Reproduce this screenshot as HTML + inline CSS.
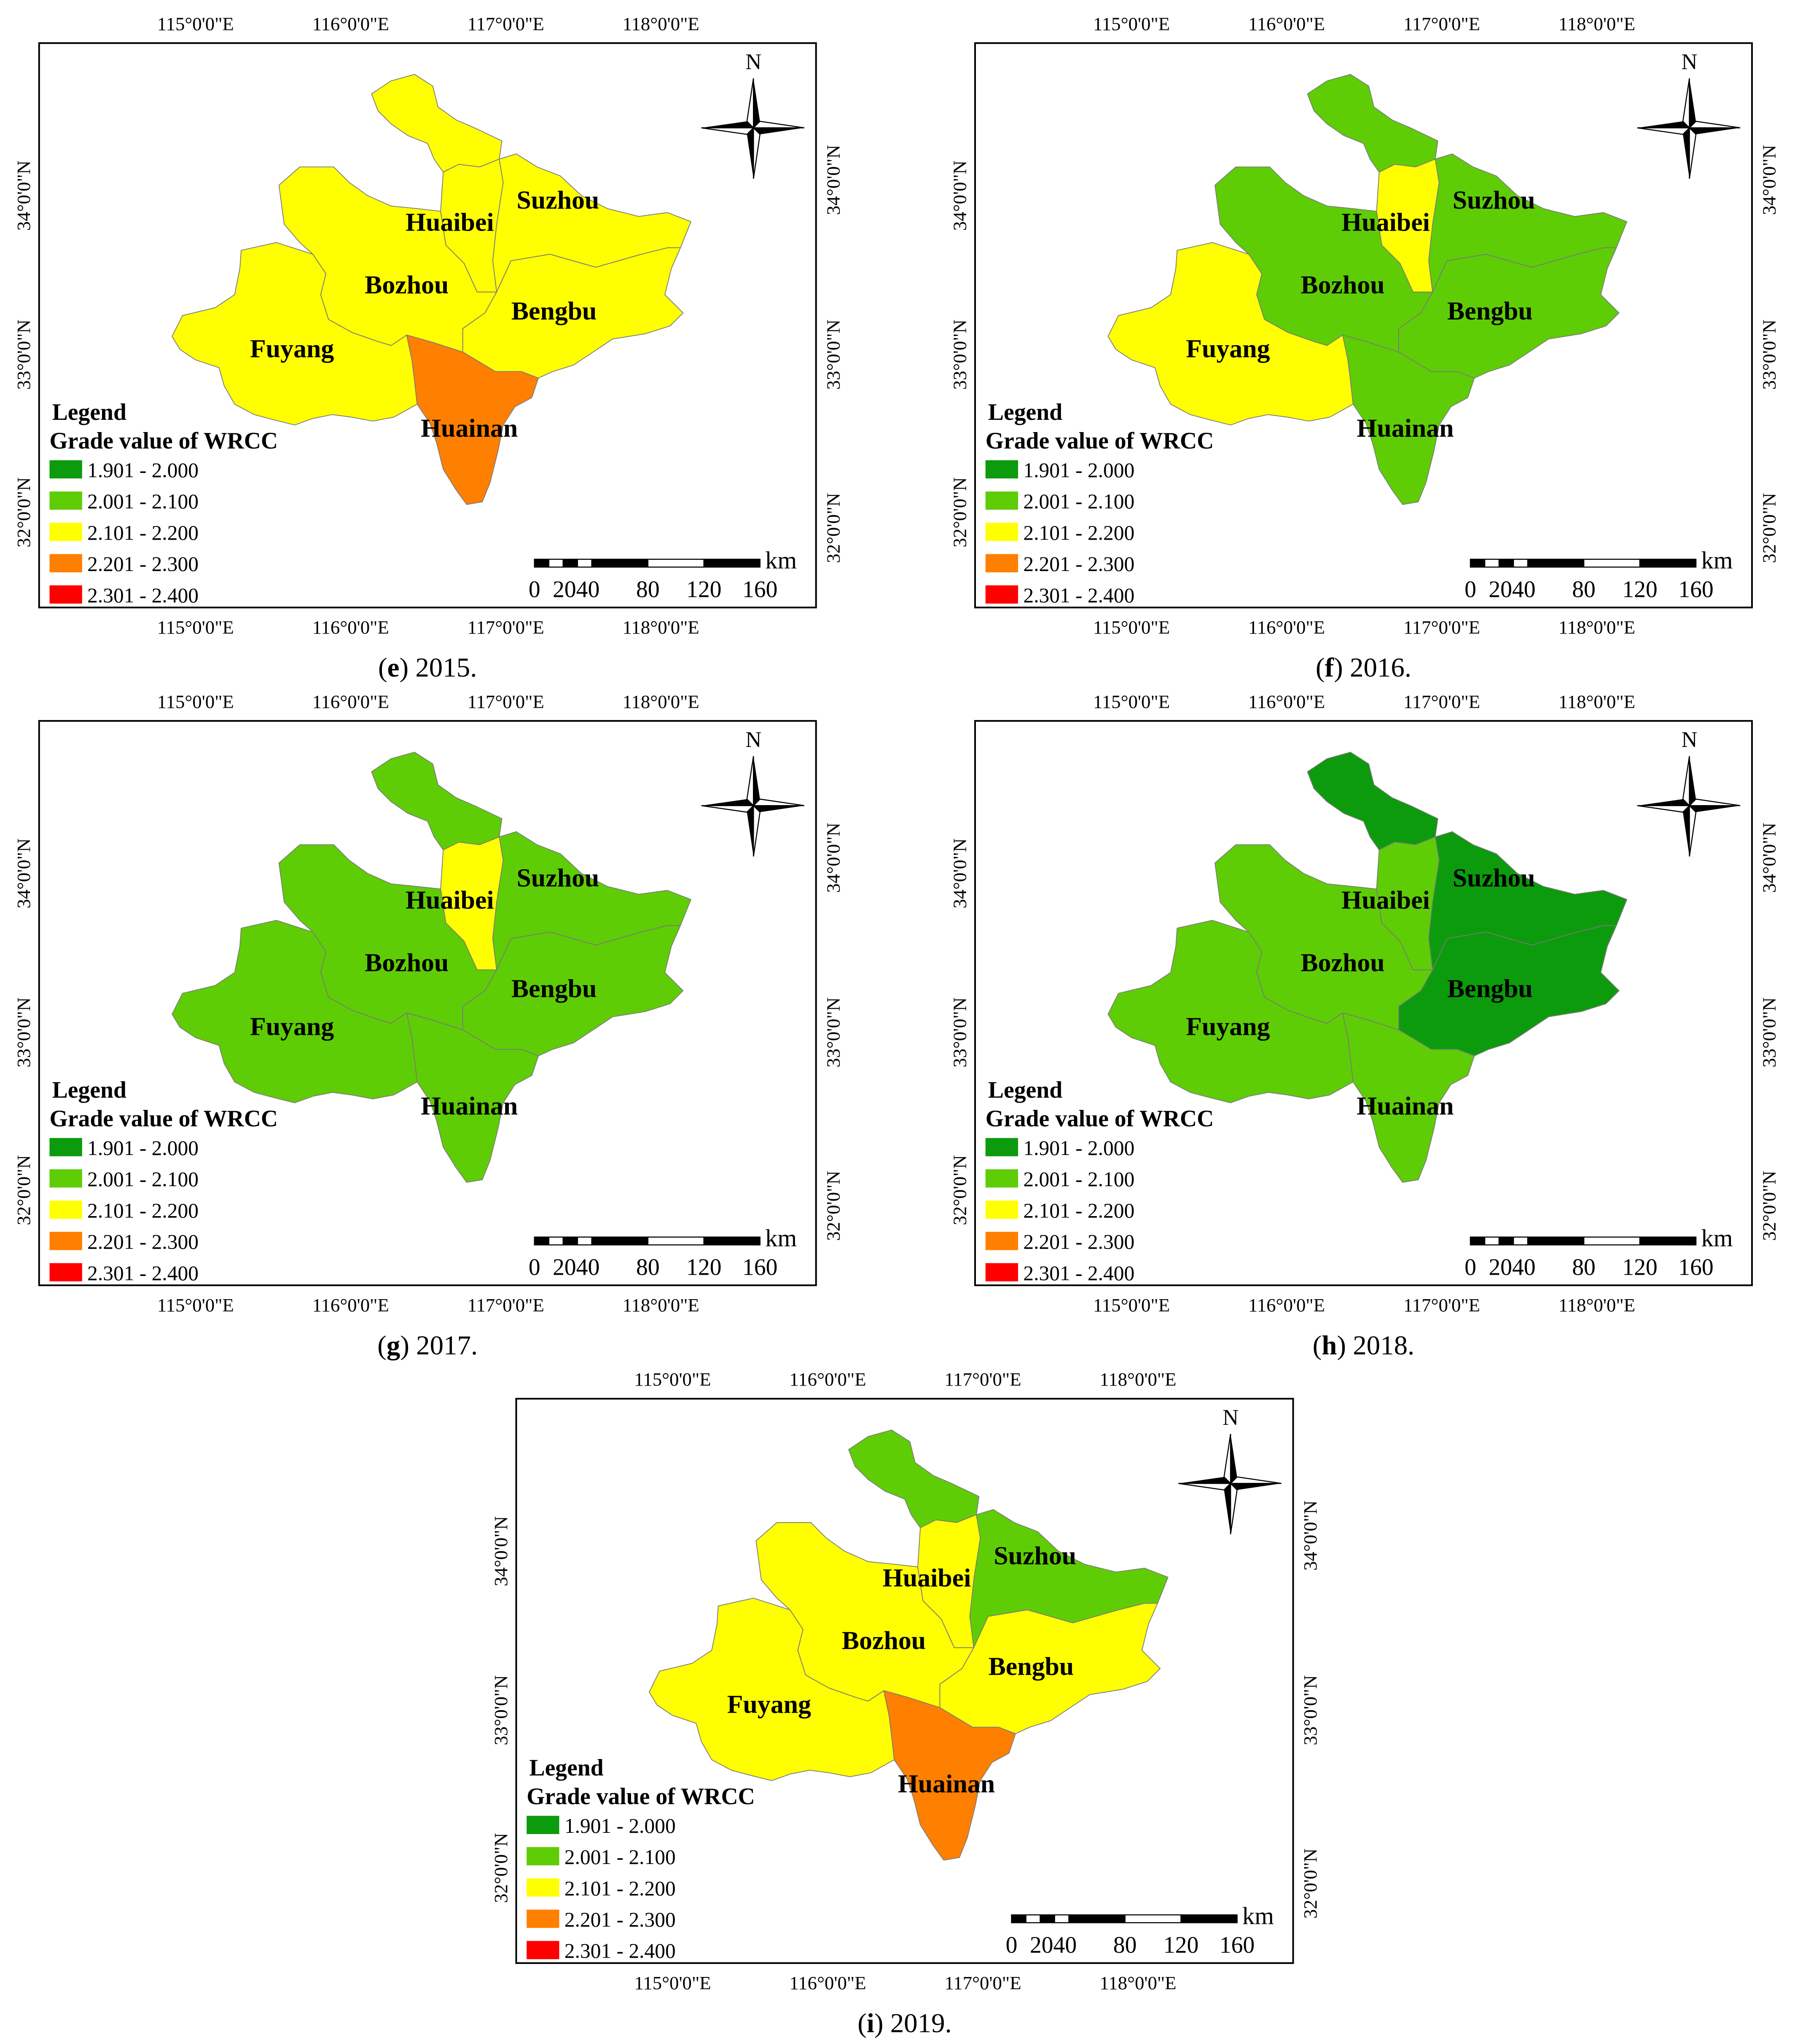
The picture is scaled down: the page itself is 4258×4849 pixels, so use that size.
<!DOCTYPE html>
<html><head><meta charset="utf-8"><style>
html,body{margin:0;padding:0;background:#fff}
svg{display:block}
text{font-family:"Liberation Serif",serif}
</style></head><body>
<svg id="fig" width="4258" height="4849" viewBox="0 0 1377 1568" xmlns="http://www.w3.org/2000/svg">
<rect width="1377" height="1568" fill="#fff"/>
</svg>
<script>
// ---- data ----
const years = ["2015","2016","2017","2018","2019"];
const panelLetters = ["e","f","g","h","i"];
const regionNames = ["North","Huaibei","Suzhou","Bozhou","Fuyang","Bengbu","Huainan"];
// grade class index per region (0:1.901-2.000 ... 4:2.301-2.400)
const grades2015 = [2,2,2,2,2,2,3];
const grades2016 = [1,2,1,1,2,1,1];
const grades2017 = [1,2,1,1,1,1,1];
const grades2018 = [0,1,0,1,1,0,1];
const grades2019 = [1,2,1,2,2,2,3];
const legendLabels = ["1.901 - 2.000","2.001 - 2.100","2.101 - 2.200","2.201 - 2.300","2.301 - 2.400"];
const classColors = ["#0c9b0c","#5fcd05","#ffff00","#ff7f00","#ff0000"];
const lonTicks = ["115°0'0\"E","116°0'0\"E","117°0'0\"E","118°0'0\"E"];
const latTicks = ["34°0'0\"N","33°0'0\"N","32°0'0\"N"];
const scaleLabels = ["0","2040","80","120","160"];

const allGrades=[grades2015,grades2016,grades2017,grades2018,grades2019];
const offsets=[[0,0],[718,0],[0,520],[718,520],[366,1040]];

const shapes={
North:"285,72 300,62 318,57 332,66 336,82 350,92 364,98 385,108 383,122 368,128 352,126 340,132 333,122 328,110 313,104 300,95 290,85",
Huaibei:"340,132 352,126 368,128 383,122 386,140 381,172 378,200 381,224 366,224 356,202 342,188 338,162",
Suzhou:"383,122 396,118 412,128 430,135 446,150 466,160 490,166 512,163 530,170 522,190 512,190 492,195 457,205 422,195 392,200 381,224 378,200 381,172 386,140",
Bozhou:"214,142 230,128 256,128 268,140 282,150 300,158 320,160 338,162 342,188 356,202 366,224 381,224 372,240 355,252 355,270 330,262 312,257 300,265 290,262 270,255 252,245 246,226 250,210 240,195 230,186 218,172",
Fuyang:"185,192 212,186 240,195 250,210 246,226 252,245 270,255 290,262 300,265 312,257 316,276 318,292 320,310 302,320 286,323 270,320 255,318 240,321 226,326 210,322 195,318 180,310 172,296 168,282 150,276 138,268 132,258 140,242 165,236 180,226 184,206",
Bengbu:"381,224 392,200 422,195 457,205 492,195 512,190 522,190 515,206 510,226 524,240 514,250 495,256 470,260 455,270 440,280 424,285 413,290 400,285 380,285 355,270 355,252 372,240",
Huainan:"312,257 330,262 355,270 380,285 400,285 413,290 408,305 395,312 386,326 382,346 376,370 370,385 358,387 350,376 340,360 335,340 330,325 320,310 318,292 316,276"
};
const labelPos={Huaibei:[345,170],Suzhou:[428,153],Bozhou:[312,218],Bengbu:[425,238],Fuyang:[224,267],Huainan:[360,328]};

const NS="http://www.w3.org/2000/svg";
const svg=document.getElementById('fig');
function mk(tag,attrs,parent,txt){const e=document.createElementNS(NS,tag);for(const k in attrs)e.setAttribute(k,attrs[k]);if(txt!==undefined)e.textContent=txt;parent.appendChild(e);return e;}

years.forEach((yr,p)=>{
  const [dx,dy]=offsets[p];
  const g=mk('g',{transform:`translate(${dx},${dy})`},svg);
  
  
  const frame=mk('rect',{x:30,y:33,width:596,height:433,fill:'#fff',stroke:'#000','stroke-width':1.3},g);
  
  
  regionNames.forEach((r,i)=>{
    const poly=mk('polygon',{points:shapes[r],fill:classColors[allGrades[p][i]],stroke:'#7a7a7a','stroke-width':0.6,'stroke-linejoin':'round'},g);
    
    
  });
  for(const r in labelPos){
    const t=mk('text',{x:labelPos[r][0],y:labelPos[r][1]+7,'text-anchor':'middle','font-size':20,'font-weight':'bold'},g,r);
    
    
  }
  lonTicks.forEach((l,i)=>{
    const x=150+i*119;
    const t1=mk('text',{x:x,y:23,'text-anchor':'middle','font-size':14.5},g,l);
    
    
    const t2=mk('text',{x:x,y:486,'text-anchor':'middle','font-size':14.5},g,l);
    
    
  });
  const latL=[150,272,393], latR=[138,272,405];
  latTicks.forEach((l,i)=>{
    const t1=mk('text',{x:0,y:0,'text-anchor':'middle','font-size':14.5,transform:`translate(23,${latL[i]}) rotate(-90)`},g,l);
    
    
    const t2=mk('text',{x:0,y:0,'text-anchor':'middle','font-size':14.5,transform:`translate(644,${latR[i]}) rotate(-90)`},g,l);
    
    
  });
  const c=mk('g',{},g);
  
  
  const cx=578,cy=98;
  mk('polygon',{points:`${cx},${cy-38} ${cx+5},${cy-5} ${cx},${cy}`,fill:'#000'},c);
  mk('polygon',{points:`${cx},${cy-38} ${cx-5},${cy-5} ${cx},${cy}`,fill:'#fff',stroke:'#000','stroke-width':0.8},c);
  mk('polygon',{points:`${cx},${cy+39} ${cx-5},${cy+5} ${cx},${cy}`,fill:'#000'},c);
  mk('polygon',{points:`${cx},${cy+39} ${cx+5},${cy+5} ${cx},${cy}`,fill:'#fff',stroke:'#000','stroke-width':0.8},c);
  mk('polygon',{points:`${cx-40},${cy} ${cx-5},${cy-5} ${cx},${cy}`,fill:'#000'},c);
  mk('polygon',{points:`${cx-40},${cy} ${cx-5},${cy+5} ${cx},${cy}`,fill:'#fff',stroke:'#000','stroke-width':0.8},c);
  mk('polygon',{points:`${cx+39},${cy} ${cx+5},${cy+5} ${cx},${cy}`,fill:'#000'},c);
  mk('polygon',{points:`${cx+39},${cy} ${cx+5},${cy-5} ${cx},${cy}`,fill:'#fff',stroke:'#000','stroke-width':0.8},c);
  mk('text',{x:cx,y:53,'text-anchor':'middle','font-size':17},c,'N');
  const lg=mk('g',{},g);
  
  
  mk('text',{x:40,y:322,'font-size':18,'font-weight':'bold'},lg,'Legend');
  mk('text',{x:38,y:344,'font-size':18,'font-weight':'bold'},lg,'Grade value of WRCC');
  legendLabels.forEach((l,i)=>{
    const y=353+i*24;
    const b=mk('rect',{x:38,y:y,width:25,height:14,fill:classColors[i]},lg);
    
    
    const t=mk('text',{x:67,y:y+13,'font-size':16},lg,l);
    
    
  });
  const sb=mk('g',{},g);
  
  
  const segs=[[410,421,1],[421,432,0],[432,443,1],[443,454,0],[454,497,1],[497,540,0],[540,583,1]];
  segs.forEach(s=>{mk('rect',{x:s[0],y:429,width:s[1]-s[0],height:6,fill:s[2]?'#000':'#fff',stroke:'#000','stroke-width':0.8},sb);});
  const sx=[410,442,497,540,583];
  scaleLabels.forEach((l,i)=>{mk('text',{x:sx[i],y:458,'text-anchor':'middle','font-size':18},sb,l);});
  mk('text',{x:587,y:436,'font-size':19},sb,'km');
  const cap=mk('text',{x:328,y:519,'text-anchor':'middle','font-size':21},g);
  
  
  mk('tspan',{},cap,'(');
  mk('tspan',{'font-weight':'bold'},cap,panelLetters[p]);
  mk('tspan',{},cap,') '+yr+'.');
});
</script>
</body></html>
